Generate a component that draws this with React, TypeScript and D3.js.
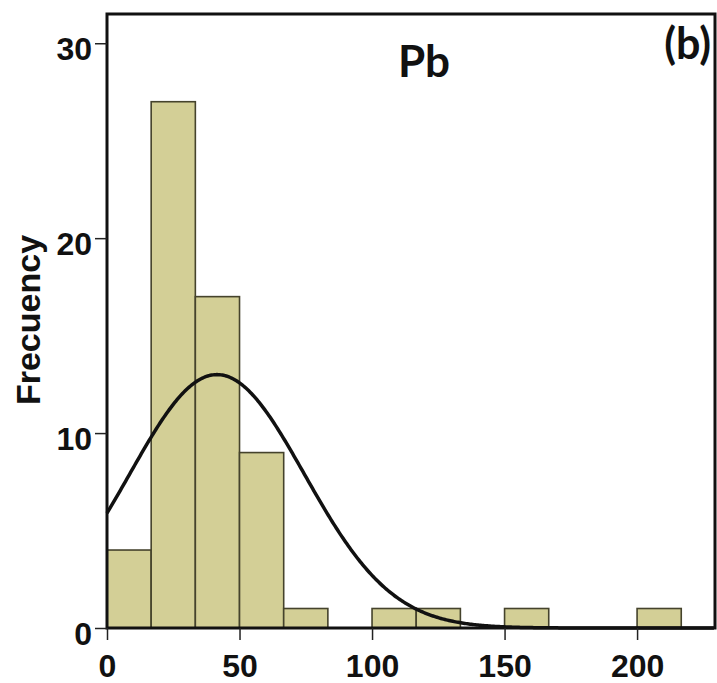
import React, { useEffect, useRef } from 'react'
import * as d3 from 'd3'

// Pb concentration histogram, bins of 50/3
const binWidth = 50 / 3
const binCounts = [4, 27, 17, 9, 1, 0, 1, 1, 0, 1, 0, 0, 1]
const xTicks = [0, 50, 100, 150, 200]
const yTicks = [0, 10, 20, 30]

// normal fit
const fitMean = 41.5
const fitSd = 33
const fitPeak = 13

const title = 'Pb'
const panelLabel = '(b)'
const yLabel = 'Frecuency'

export default function App() {
  const svgRef = useRef<SVGSVGElement>(null)

  useEffect(() => {
    if (!svgRef.current) return
    const svg = d3.select(svgRef.current)
    svg.selectAll('*').remove()

    const left = 107
    const right = 715
    const top = 14
    const bottom = 628

    const x = d3.scaleLinear().domain([0, 229.4]).range([left, right])
    const y = d3.scaleLinear().domain([0, 31.5]).range([bottom, top])

    const bins = binCounts.map((c, i) => ({ x0: i * binWidth, x1: (i + 1) * binWidth, count: c }))

    svg
      .append('g')
      .selectAll('rect')
      .data(bins.filter((b) => b.count > 0))
      .join('rect')
      .attr('x', (d) => x(d.x0))
      .attr('y', (d) => y(d.count))
      .attr('width', (d) => x(d.x1) - x(d.x0))
      .attr('height', (d) => y(0) - y(d.count))
      .attr('fill', '#d3cf96')
      .attr('stroke', '#45432c')
      .attr('stroke-width', 1.6)

    const curvePts = d3.range(0, 229.4, 0.5).map((v) => ({
      v,
      f: fitPeak * Math.exp(-((v - fitMean) ** 2) / (2 * fitSd * fitSd)),
    }))
    const line = d3
      .line<{ v: number; f: number }>()
      .x((d) => x(d.v))
      .y((d) => y(d.f))
    svg
      .append('path')
      .datum(curvePts)
      .attr('fill', 'none')
      .attr('stroke', '#111')
      .attr('stroke-width', 3.5)
      .attr('d', line)

    // frame
    svg
      .append('rect')
      .attr('x', left)
      .attr('y', top)
      .attr('width', right - left)
      .attr('height', bottom - top)
      .attr('fill', 'none')
      .attr('stroke', '#111')
      .attr('stroke-width', 3)

    const font = '"Liberation Sans", Arial, sans-serif'

    const xAxis = svg
      .append('g')
      .attr('transform', `translate(0,${bottom})`)
      .call(d3.axisBottom(x).tickValues(xTicks).tickSize(12).tickPadding(14).tickFormat(d3.format('d')))
    xAxis.select('.domain').remove()
    xAxis.selectAll('.tick line').attr('stroke', '#222').attr('stroke-width', 1.5)
    xAxis
      .selectAll('.tick text')
      .attr('font-family', font)
      .attr('font-weight', 'bold')
      .attr('font-size', 32)
      .attr('fill', '#111')

    const yAxis = svg
      .append('g')
      .attr('transform', `translate(${left},0)`)
      .call(d3.axisLeft(y).tickValues(yTicks).tickSize(12).tickPadding(3).tickFormat(d3.format('d')))
    yAxis.select('.domain').remove()
    yAxis.selectAll('.tick line').attr('stroke', '#222').attr('stroke-width', 1.5)
    yAxis
      .selectAll('.tick text')
      .attr('font-family', font)
      .attr('font-weight', 'bold')
      .attr('font-size', 32)
      .attr('dy', '0.5em')
      .attr('fill', '#111')

    svg
      .append('text')
      .attr('transform', `translate(40,320) rotate(-90)`)
      .attr('text-anchor', 'middle')
      .attr('font-family', font)
      .attr('font-weight', 'bold')
      .attr('font-size', 34)
      .attr('fill', '#111')
      .text(yLabel)

    svg
      .append('text')
      .attr('x', 424)
      .attr('y', 77)
      .attr('text-anchor', 'middle')
      .attr('font-family', 'Lato, "Open Sans", sans-serif')
      .attr('font-weight', 'bold')
      .attr('font-size', 44)
      .attr('fill', '#111')
      .text(title)

    svg
      .append('text')
      .attr('x', 711)
      .attr('y', 59)
      .attr('text-anchor', 'end')
      .attr('font-family', 'Lato, "Open Sans", sans-serif')
      .attr('font-weight', 'bold')
      .attr('font-size', 43)
      .attr('fill', '#111')
      .text(panelLabel)
  }, [])

  return (
    <div style={{ position: 'absolute', left: 0, top: 0, background: '#fff' }}>
      <svg ref={svgRef} width={717} height={683} style={{ display: 'block' }} />
    </div>
  )
}
